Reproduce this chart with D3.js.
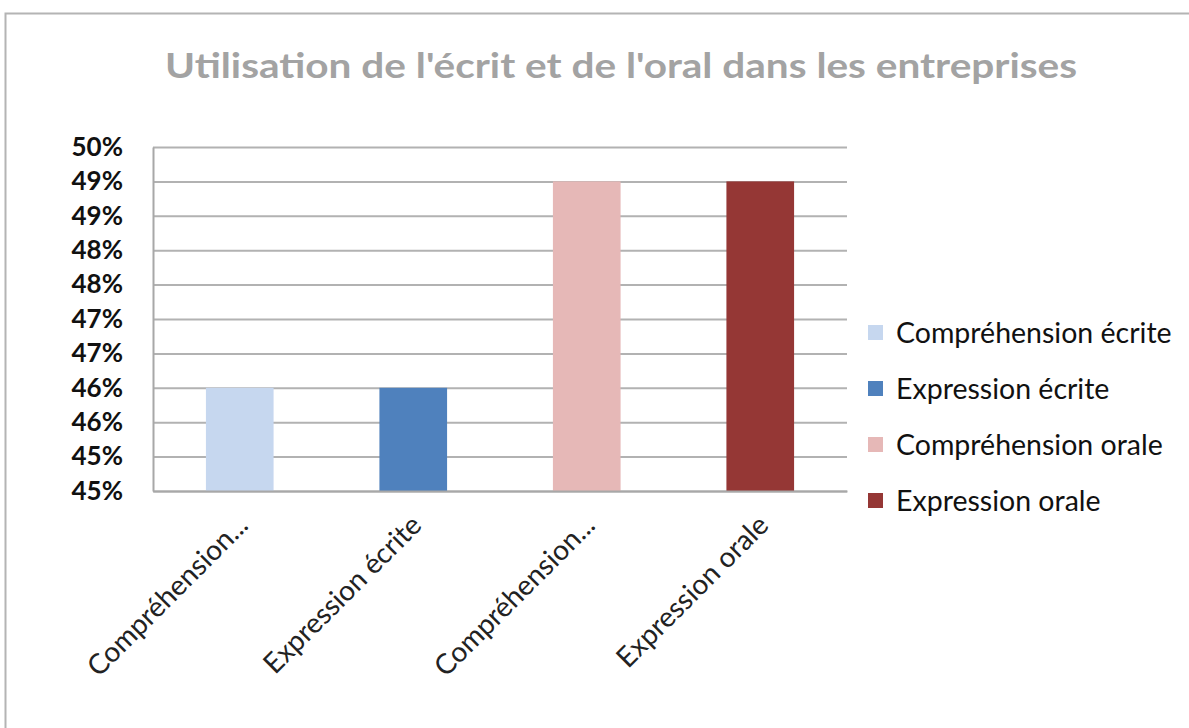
<!DOCTYPE html>
<html>
<head>
<meta charset="utf-8">
<script src="https://cdn.jsdelivr.net/npm/d3@7"></script>
<style>
  body { margin: 0; background: #fff; }
  text { font-family: Lato, "Open Sans", sans-serif; }
</style>
</head>
<body>
<script>
//==========================================================//
//  DATA
//==========================================================//
var categories = ["Compréhension écrite", "Expression écrite", "Compréhension orale", "Expression orale"];
var axisLabels = ["Compréhension...", "Expression écrite", "Compréhension...", "Expression orale"];
var values = [0.465, 0.465, 0.495, 0.495];
var colors = ["#c6d7ef", "#4f81bd", "#e6b8b7", "#953735"];
var tickValues = [0.45, 0.455, 0.46, 0.465, 0.47, 0.475, 0.48, 0.485, 0.49, 0.495, 0.50];
var tickLabels = ["45%", "45%", "46%", "46%", "47%", "47%", "48%", "48%", "49%", "49%", "50%"];

//==========================================================//
//  SETUP
//==========================================================//
var W = 1189, H = 728;
var margin = {left: 153, top: 147, right: 342, bottom: 237};
var width = W - margin.left - margin.right,
    height = H - margin.top - margin.bottom;

var root = d3.select("body").append("svg")
    .attr("width", W)
    .attr("height", H);

// outer frame
root.append("rect")
    .attr("x", 5.5).attr("y", 13.5)
    .attr("width", W + 20).attr("height", H + 20)
    .attr("fill", "none")
    .attr("stroke", "#b4b4b4")
    .attr("stroke-width", 2);

// title
root.append("text")
    .attr("x", 621).attr("y", 78)
    .attr("text-anchor", "middle")
    .attr("font-size", 34)
    .attr("font-weight", "bold")
    .attr("fill", "#a3a3a3")
    .attr("textLength", 912)
    .attr("lengthAdjust", "spacingAndGlyphs")
    .text("Utilisation de l'écrit et de l'oral dans les entreprises");

var svg = root.append("g")
    .attr("transform", "translate(" + margin.left + "," + margin.top + ")");

// scales
var x = d3.scaleBand()
    .domain(categories)
    .range([0, width])
    .paddingInner(0.61)
    .paddingOuter(0.305);

var y = d3.scaleLinear()
    .domain([0.45, 0.50])
    .range([height, 0]);

// gridlines
svg.append("g")
    .attr("class", "grid")
    .call(d3.axisLeft(y).tickValues(tickValues).tickSize(-width).tickFormat(""))
    .call(function(g) { g.select(".domain").remove(); })
    .selectAll("line")
    .attr("stroke", "#b2b2b2")
    .attr("stroke-width", 2);

// y axis labels
var yAxis = svg.append("g")
    .call(d3.axisLeft(y).tickValues(tickValues).tickSize(0).tickPadding(30)
        .tickFormat(function(d, i) { return tickLabels[i]; }));
yAxis.select(".domain").attr("stroke", "#a8a8a8").attr("stroke-width", 2);
yAxis.selectAll("text")
    .attr("font-size", 26)
    .attr("font-weight", "bold")
    .attr("fill", "#111")
    .style("font-family", "Lato, sans-serif");

// bars
svg.selectAll("mybar")
    .data(values)
    .join("rect")
        .attr("x", function(d, i) { return x(categories[i]); })
        .attr("y", function(d) { return y(d); })
        .attr("width", x.bandwidth())
        .attr("height", function(d) { return height - y(d); })
        .attr("fill", function(d, i) { return colors[i]; });

// x axis
var xAxis = svg.append("g")
    .attr("transform", "translate(0," + height + ")")
    .call(d3.axisBottom(x).tickSize(0).tickFormat(""));
xAxis.select(".domain").attr("stroke", "#a8a8a8").attr("stroke-width", 2);

svg.selectAll("xlabel")
    .data(categories)
    .join("text")
        .attr("transform", function(d) {
            return "translate(" + (x(d) + x.bandwidth() / 2 + 10) + "," + (height + 36) + ") rotate(-45)";
        })
        .attr("text-anchor", "end")
        .attr("font-size", 28)
        .attr("fill", "#222")
        .text(function(d, i) { return axisLabels[i]; });

// legend
var legend = root.append("g")
    .attr("transform", "translate(868,333)");

var item = legend.selectAll("g")
    .data(categories)
    .join("g")
        .attr("transform", function(d, i) { return "translate(0," + (i * 56) + ")"; });

item.append("rect")
    .attr("x", 0).attr("y", -8)
    .attr("width", 15).attr("height", 15)
    .attr("fill", function(d, i) { return colors[i]; });

item.append("text")
    .attr("x", 28).attr("y", 10)
    .attr("font-size", 28.5)
    .attr("fill", "#111")
    .text(function(d) { return d; });
</script>
</body>
</html>
